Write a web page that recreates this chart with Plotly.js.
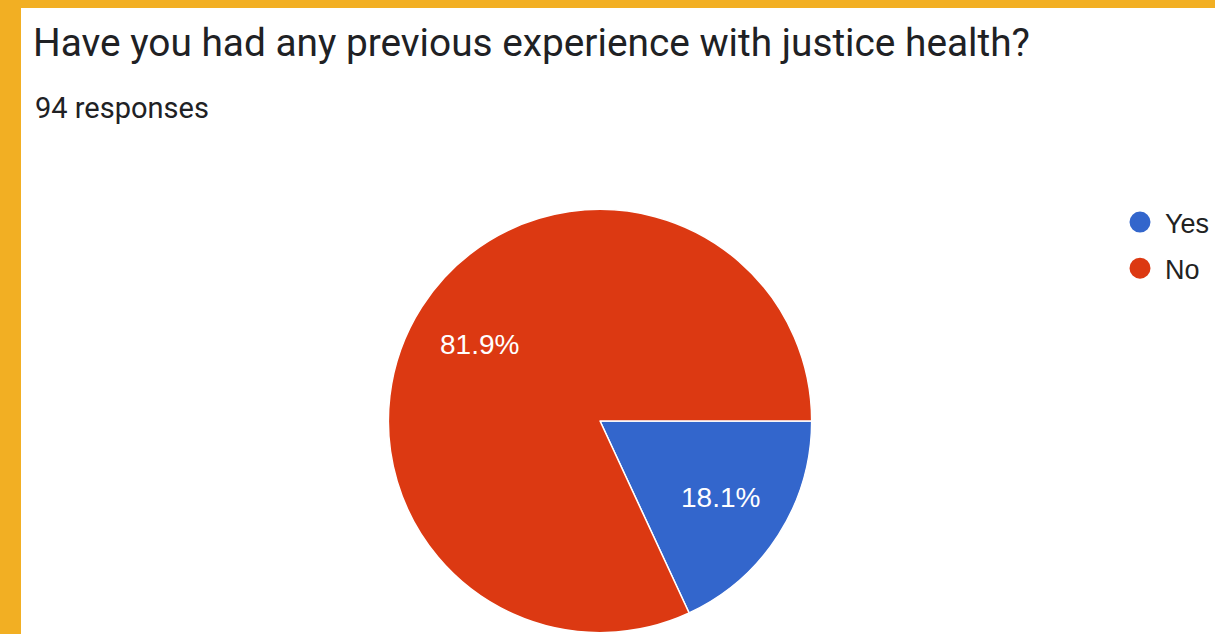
<!DOCTYPE html>
<html>
<head>
<meta charset="utf-8">
<script src="https://cdn.plot.ly/plotly-3.0.1.min.js"></script>
<style>
  html, body { margin: 0; padding: 0; width: 1215px; height: 634px; overflow: hidden; background: #F2AF23; }
  #chart { position: absolute; left: 21px; top: 8px; width: 1194px; height: 626px; background: #ffffff; }
</style>
</head>
<body>
<div id="chart"></div>
<script>
const categories = ["Yes", "No"];
const values = [17, 77];
const colors = ["#3366CC", "#DC3912"];
const titleText = "Have you had any previous experience with justice health?";
const subtitleText = "94 responses";

const W = 1194, H = 626;
const cxPx = 580, cyPx = 413, rPx = 212;
const domX = [(cxPx - rPx) / W, (cxPx + rPx) / W];
const domY = [(H - (cyPx + rPx)) / H, (H - (cyPx - rPx)) / H];

const total = values.reduce((a, b) => a + b, 0);
const pct = values.map(v => (100 * v / total).toFixed(1) + "%");

// label positions: first slice at its mid-angle, second mirrored through the centre
const midA = Math.PI * values[0] / total;
const lr = 0.675 * rPx;
const lx = [cxPx + lr * Math.cos(midA), cxPx - lr * Math.cos(midA)];
const ly = [cyPx + lr * Math.sin(midA), cyPx - lr * Math.sin(midA)];

const traces = [{
  type: "pie",
  labels: categories,
  values: values,
  sort: false,
  direction: "clockwise",
  rotation: 90,
  marker: { colors: colors, line: { color: "#ffffff", width: 1.5 } },
  textinfo: "none",
  hoverinfo: "label+percent",
  showlegend: false,
  domain: { x: domX, y: domY }
}];

categories.forEach((c, i) => {
  traces.push({
    type: "scatter",
    mode: "markers",
    x: [null], y: [null],
    name: c,
    legendgroup: "g" + i,
    marker: { color: colors[i], size: 16, symbol: "circle", line: { color: colors[i], width: 5 } },
    showlegend: true,
    hoverinfo: "skip"
  });
});

const annotations = [{
  text: subtitleText,
  xref: "paper", yref: "paper",
  x: 12 / W, y: 1 - 100 / H,
  xanchor: "left", yanchor: "middle",
  showarrow: false,
  font: { family: "Roboto, sans-serif", size: 29, color: "#202124" }
}];
categories.forEach((c, i) => {
  annotations.push({
    text: pct[i],
    xref: "paper", yref: "paper",
    x: lx[i] / W, y: 1 - ly[i] / H,
    xanchor: "center", yanchor: "middle",
    showarrow: false,
    font: { family: "Liberation Sans, Arial, sans-serif", size: 28, color: "#ffffff" }
  });
});

const layout = {
  width: W, height: H,
  margin: { l: 0, r: 0, t: 0, b: 0 },
  paper_bgcolor: "#ffffff",
  plot_bgcolor: "#ffffff",
  title: {
    text: titleText,
    x: 12 / W, xref: "paper", xanchor: "left",
    y: 1 - 34 / H, yref: "container", yanchor: "middle",
    font: { family: "Roboto, sans-serif", size: 38.8, color: "#202124" }
  },
  xaxis: { visible: false },
  yaxis: { visible: false },
  showlegend: true,
  legend: {
    x: 1096 / W, xanchor: "left",
    y: 1 - 190 / H, yanchor: "top",
    traceorder: "grouped",
    tracegroupgap: 8,
    itemwidth: 40,
    font: { family: "Liberation Sans, Arial, sans-serif", size: 27, color: "#222222" },
    bgcolor: "rgba(0,0,0,0)"
  },
  annotations: annotations
};

Plotly.newPlot("chart", traces, layout, { displayModeBar: false, staticPlot: true });
</script>
</body>
</html>
